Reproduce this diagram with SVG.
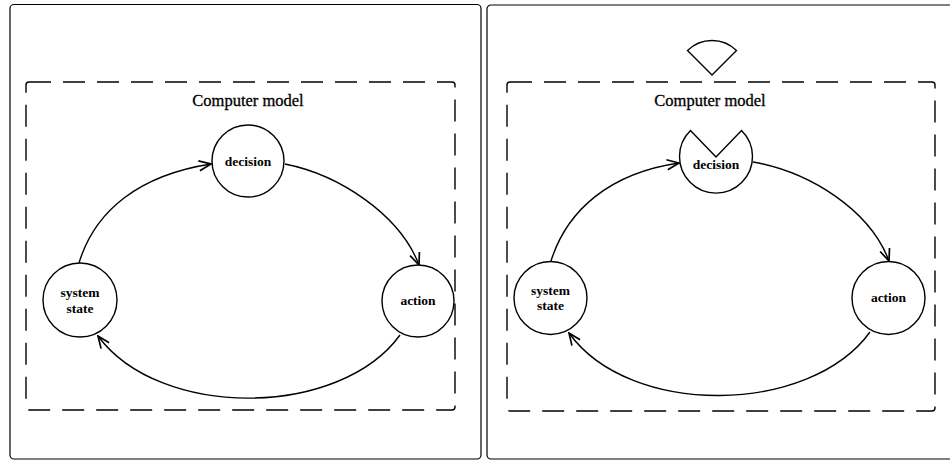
<svg xmlns="http://www.w3.org/2000/svg" width="950" height="461" viewBox="0 0 950 461">
<style>
.frame{fill:none;stroke:#000;stroke-width:1.2}
.dash{fill:none;stroke:#000;stroke-width:1.4;stroke-dasharray:22 12}
.node{fill:#fff;stroke:#000;stroke-width:1.4}
.conn{fill:none;stroke:#000;stroke-width:1.4}
.title{font-family:"Liberation Serif",serif;font-size:16.5px;text-anchor:middle;fill:#000;stroke:#000;stroke-width:0.3}
.lbl{font-family:"Liberation Serif",serif;font-size:13.5px;font-weight:bold;text-anchor:middle;fill:#000}
</style>
<defs>
<marker id="arr" viewBox="0 0 14 14" refX="13" refY="7" markerWidth="14" markerHeight="14" markerUnits="userSpaceOnUse" orient="auto">
<path d="M1,2 L13,7 L1,12" fill="none" stroke="#000" stroke-width="1.7"/>
</marker>
</defs>
<rect id="panel-left" class="frame" x="10" y="4.5" width="471" height="454.5" rx="4"/>
<rect id="panel-right" class="frame" x="487" y="5" width="475" height="454" rx="4"/>

<g id="left">
<rect id="left-model" class="dash" x="26" y="82" width="429" height="328" rx="3"/>
<text class="title" x="248" y="106">Computer model</text>
<g id="connectors-left">
<path class="conn" marker-end="url(#arr)" d="M79,263 C95,210 140,175 211,164"/>
<path class="conn" marker-end="url(#arr)" d="M285,164 C340,175 400,215 419,265"/>
<path class="conn" marker-end="url(#arr)" d="M400,335 C340,418 160,420 98,336"/>
</g>
<g id="left-decision"><circle class="node" cx="248" cy="161" r="36"/><text class="lbl" x="248" y="166">decision</text></g>
<g id="left-system"><circle class="node" cx="80" cy="300" r="37"/><text class="lbl" x="80" y="297">system</text><text class="lbl" x="80" y="313">state</text></g>
<g id="left-action"><circle class="node" cx="418" cy="301" r="36"/><text class="lbl" x="418" y="305">action</text></g>
</g>

<g id="right">
<rect id="right-model" class="dash" x="507" y="82" width="428" height="329" rx="3"/>
<text class="title" x="710" y="106">Computer model</text>
<g id="wedge"><path class="node" d="M712,75 L687.5,50.5 A35,35 0 0 1 736.5,50.5 Z"/></g>
<g id="connectors-right">
<path class="conn" marker-end="url(#arr)" d="M551,261 C567,210 610,173 679,163"/>
<path class="conn" marker-end="url(#arr)" d="M753,162 C810,172 870,210 889,261"/>
<path class="conn" marker-end="url(#arr)" d="M870,332 C810,415 630,418 569,333"/>
</g>
<g id="right-decision"><path class="node" d="M716,157 L690.5,130.5 A36.5,36.5 0 1 0 741.5,130.5 Z"/><text class="lbl" x="716" y="169">decision</text></g>
<g id="right-system"><circle class="node" cx="550.5" cy="298" r="36.5"/><text class="lbl" x="550.5" y="295">system</text><text class="lbl" x="550.5" y="310">state</text></g>
<g id="right-action"><circle class="node" cx="888.5" cy="298" r="36.5"/><text class="lbl" x="888.5" y="302">action</text></g>
</g>
</svg>
